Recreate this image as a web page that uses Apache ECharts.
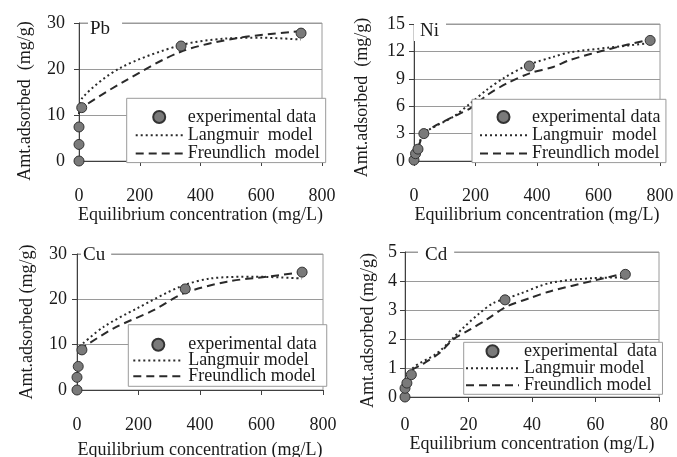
<!DOCTYPE html>
<html>
<head>
<meta charset="utf-8">
<script src="https://cdn.jsdelivr.net/npm/echarts@6/dist/echarts.min.js"></script>
<style>
  html, body { margin: 0; padding: 0; background: #fff; }
  #chart { width: 677px; height: 457px; }
</style>
</head>
<body>
<div id="chart"></div>
<script>
// values, [C (mg/L), q (mg/g)]
const pbData = [[0, 0], [0, 3.6], [0, 7.4], [9, 11.6], [336, 25.0], [731, 27.8]]
const pbLangmuir = [[0, 10.2], [12, 13.8], [135, 20.2], [336, 25.2], [480, 26.6], [600, 26.8], [731, 26.4]]
const pbFreundlich = [[0, 10.6], [14, 11.8], [146, 17.2], [333, 23.7], [519, 26.7], [728, 28.2]]

const niData = [[0, 0.1], [5, 0.8], [13, 1.3], [32, 3.0], [375, 10.4], [768, 13.2]]
const niLangmuir = [[0, 0.1], [13, 1.4], [32, 3.0], [128, 4.85], [183, 6.3], [237, 7.8], [291, 9.06], [370, 10.5], [453, 11.4], [507, 11.9], [630, 12.4], [768, 12.9]]
const niFreundlich = [[0, 0.1], [13, 1.4], [32, 3.0], [64, 3.76], [128, 4.85], [183, 5.77], [237, 7.2], [302, 8.5], [376, 9.6], [453, 10.3], [507, 11.06], [640, 12.3], [768, 13.3]]

const cuData = [[0, 0], [0, 2.8], [4, 5.2], [16, 8.85], [352, 22.3], [732, 26.0]]
const cuLangmuir = [[8, 9.6], [86, 13.9], [195, 18.0], [336, 22.8], [434, 24.6], [575, 25.0], [732, 24.6]]
const cuFreundlich = [[8, 8.9], [119, 13.6], [249, 17.6], [347, 21.3], [488, 23.9], [619, 25.0], [732, 26.0]]

const cdData = [[0, 0], [0, 0.3], [0.6, 0.48], [2.0, 0.77], [31.5, 3.35], [69.4, 4.23]]
const cdLangmuir = [[0.6, 0.5], [2.5, 1.0], [10, 1.5], [15.1, 2.03], [18.3, 2.38], [23.6, 2.9], [27.8, 3.24], [31.5, 3.38], [36.2, 3.56], [45.6, 3.93], [59.3, 4.1], [68.3, 4.12]]
const cdFreundlich = [[0.6, 0.5], [2.5, 0.95], [5, 1.1], [10.9, 1.52], [15.1, 1.98], [20.4, 2.32], [25.7, 2.67], [32, 3.12], [39.3, 3.41], [45.6, 3.64], [59.3, 4.01], [68.3, 4.24]]

const FONT = 'Liberation Serif'
const TEXT = '#1a1a1a'
const AXIS = '#404040'
const GRIDLINE = '#9a9a9a'

// layout of each panel
const panels = [
  {
    title: 'Pb', titlePos: { left: 88, top: 19, padding: [0, 12, 0, 2] },
    grid: { left: 79, top: 23, width: 243, height: 138 },
    xMax: 800, xInt: 200, yMax: 30, yInt: 10,
    yName: 'Amt.adsorbed  (mg/g)', yGap: 45, yShift: 18, yLabelMargin: 14,
    xLabelMargin: 26, xGap: 43,
    data: pbData, lang: pbLangmuir, freu: pbFreundlich,
    names: ['experimental data', 'Langmuir  model', 'Freundlich  model'],
    legend: { left: 126.7, top: 98.3, padding: [9.7, 6, 0, 8], itemGap: 0.3, itemWidth: 47 }
  },
  {
    title: 'Ni', titlePos: { left: 414, top: 21, padding: [0, 7, 0, 6] },
    grid: { left: 414, top: 24, width: 246, height: 137 },
    xMax: 800, xInt: 200, yMax: 15, yInt: 3,
    yName: 'Amt.adsorbed  (mg/g)', yGap: 43, yShift: 10, yLabelMargin: 9,
    xLabelMargin: 26, xGap: 43,
    data: niData, lang: niLangmuir, freu: niFreundlich,
    names: ['experimental data ', 'Langmuir  model ', 'Freundlich model'],
    legend: { left: 472, top: 99.3, padding: [8.7, 1, 0, 7], itemGap: 0.3, itemWidth: 47 }
  },
  {
    title: 'Cu', titlePos: { left: 81, top: 245.5, padding: [0, 6, 0, 2] },
    grid: { left: 77, top: 254, width: 246, height: 136 },
    xMax: 800, xInt: 200, yMax: 30, yInt: 10,
    yName: 'Amt.adsorbed (mg/g)', yGap: 41, yShift: 0, yLabelMargin: 10,
    xLabelMargin: 26, xGap: 51,
    data: cuData, lang: cuLangmuir, freu: cuFreundlich,
    names: ['experimental data  ', 'Langmuir model', 'Freundlich model '],
    legend: { left: 128.3, top: 324.7, padding: [11, 1, 1, 4], itemGap: -2.2, itemWidth: 50 }
  },
  {
    title: 'Cd', titlePos: { left: 418, top: 244.7, padding: [0, 7, 0, 7] },
    grid: { left: 405, top: 252, width: 254, height: 145 },
    xMax: 80, xInt: 20, yMax: 5, yInt: 1,
    yName: 'Amt.adsorbed (mg/g)', yGap: 28, yShift: 12, yLabelMargin: 8,
    xLabelMargin: 19, xGap: 33,
    data: cdData, lang: cdLangmuir, freu: cdFreundlich,
    names: ['experimental  data', 'Langmuir model ', 'Freundlich model  '],
    legend: { left: 463.7, top: 342.3, padding: [0, 2, 0, 1.3], itemGap: -1, itemWidth: 53 }
  }
]

const chart = echarts.init(document.getElementById('chart'), null, { renderer: 'canvas' })

const option = {
  animation: false,
  backgroundColor: '#fff',
  title: [], grid: [], xAxis: [], yAxis: [], legend: [], series: []
}

// legend icon for the model lines: line only, hide the symbol
const noSymbol = { color: 'rgba(0,0,0,0)', borderColor: 'rgba(0,0,0,0)', borderWidth: 0 }

panels.forEach((p, i) => {
  option.title.push({
    text: p.title,
    left: p.titlePos.left,
    top: p.titlePos.top,
    padding: p.titlePos.padding,
    backgroundColor: '#fff',
    z: 10,
    textStyle: { fontFamily: FONT, fontSize: 19, fontWeight: 'normal', color: TEXT, lineHeight: 20 }
  })
  option.grid.push(Object.assign({
    show: true, borderColor: GRIDLINE, borderWidth: 1, backgroundColor: '#fff',
    containLabel: false, outerBoundsMode: 'none'
  }, p.grid))
  option.xAxis.push({
    gridIndex: i,
    type: 'value',
    min: 0, max: p.xMax, interval: p.xInt,
    name: 'Equilibrium concentration (mg/L)',
    nameLocation: 'middle',
    nameGap: p.xGap,
    nameTextStyle: { fontFamily: FONT, fontSize: 18, color: TEXT },
    axisLine: { show: true, lineStyle: { color: AXIS, width: 1 } },
    axisTick: { show: true, length: 5, lineStyle: { color: AXIS } },
    axisLabel: { margin: p.xLabelMargin, fontFamily: FONT, fontSize: 18, color: TEXT },
    splitLine: { show: false }
  })
  option.yAxis.push({
    gridIndex: i,
    type: 'value',
    min: 0, max: p.yMax, interval: p.yInt,
    name: p.yName,
    nameLocation: 'middle',
    nameRotate: 90,
    nameGap: p.yGap,
    nameTextStyle: { fontFamily: FONT, fontSize: 18, color: TEXT, padding: [0, p.yShift, 0, 0] },
    axisLine: { show: true, lineStyle: { color: AXIS, width: 1 } },
    axisTick: { show: true, length: 5, lineStyle: { color: AXIS } },
    axisLabel: { margin: p.yLabelMargin, fontFamily: FONT, fontSize: 18, color: TEXT },
    splitLine: { show: true, lineStyle: { color: GRIDLINE, width: 1 } }
  })
  option.legend.push({
    orient: 'vertical',
    left: p.legend.left,
    top: p.legend.top,
    padding: p.legend.padding,
    itemGap: p.legend.itemGap,
    itemWidth: p.legend.itemWidth,
    itemHeight: 12,
    backgroundColor: '#fff',
    borderColor: GRIDLINE,
    borderWidth: 1,
    selectedMode: false,
    textStyle: { fontFamily: FONT, fontSize: 18, color: TEXT, lineHeight: 18 },
    data: [
      { name: p.names[0], icon: 'circle' },
      { name: p.names[1], itemStyle: noSymbol },
      { name: p.names[2], itemStyle: noSymbol }
    ]
  })
  option.series.push(
    {
      name: p.names[1],
      type: 'line',
      xAxisIndex: i, yAxisIndex: i,
      data: p.lang,
      smooth: 0.3,
      symbol: 'none',
      z: 2,
      lineStyle: { color: '#2a2a2a', width: 2, type: [2, 3] },
      itemStyle: { color: '#2a2a2a' }
    },
    {
      name: p.names[2],
      type: 'line',
      xAxisIndex: i, yAxisIndex: i,
      data: p.freu,
      smooth: 0.3,
      symbol: 'none',
      z: 2,
      lineStyle: { color: '#2a2a2a', width: 2, type: [8, 5] },
      itemStyle: { color: '#2a2a2a' }
    },
    {
      name: p.names[0],
      type: 'scatter',
      xAxisIndex: i, yAxisIndex: i,
      data: p.data,
      symbol: 'circle',
      symbolSize: 10,
      z: 3,
      itemStyle: { color: '#7a7a7a', borderColor: '#333', borderWidth: 1, opacity: 1 }
    }
  )
})

chart.setOption(option)
</script>
</body>
</html>
